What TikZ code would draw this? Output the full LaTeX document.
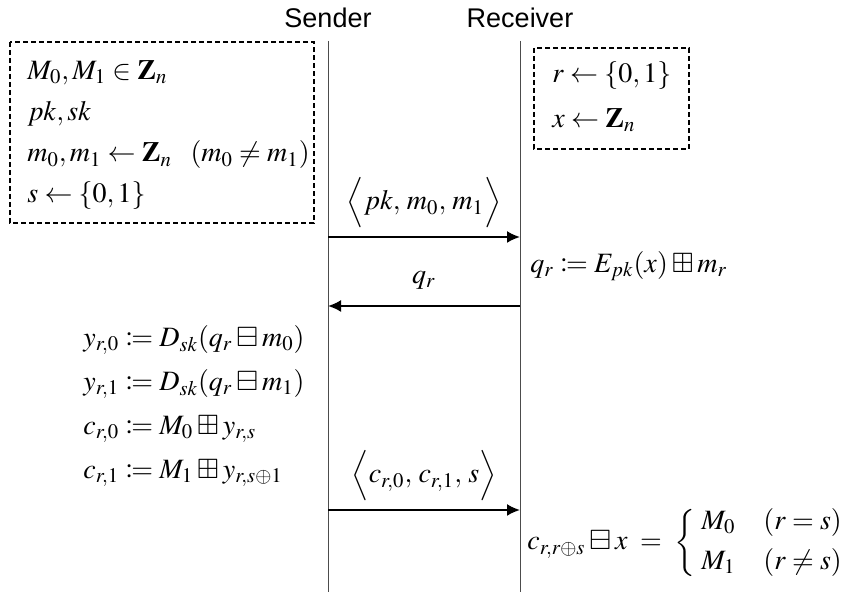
\documentclass[tikz,border=0pt]{standalone}
\usepackage{amssymb}
\usepackage{mathtools}
\usepackage{mathptmx}
\usepackage[no-math]{fontspec}
\newfontfamily\titlefont{Liberation Sans}
\usetikzlibrary{arrows.meta}
\tikzset{
  party/.style={font=\titlefont\fontsize{13.5}{15}\selectfont},
  lifeline/.style={draw=black!70, line width=0.5pt},
  dbox/.style={draw, dashed, line width=0.9pt, dash pattern=on 2.5pt off 1.5pt},
  msg/.style={line width=1pt, -{Latex[length=6.5pt,width=6pt]}},
  eq/.style={font=\fontsize{14}{16}\selectfont, inner sep=0pt},
}
\begin{document}
\begin{tikzpicture}[x=0.5pt, y=-0.5pt]
    \useasboundingbox (0,0) rectangle (858,592);
    % the two parties and their lifelines
    \node[party] (snd) at (328,18) {Sender};
    \node[party] (rcv) at (520,18) {Receiver};
    \coordinate (sndtop) at (328,41);
    \coordinate (sndbot) at (328,592);
    \coordinate (rcvtop) at (520,41);
    \coordinate (rcvbot) at (520,592);
    \draw[lifeline] (sndtop) -- (sndbot);
    \draw[lifeline] (rcvtop) -- (rcvbot);
    % set-up on each side
    \draw[dbox] (10,42) rectangle (314,223);
    \node[eq, anchor=west] (sv1) at (27,73) {$M_0, M_1 \in \mathbf{Z}_n$};
    \node[eq, anchor=west] (sv2) at (27,114) {$pk, sk$};
    \node[eq, anchor=west] (sv3) at (27,155) {$m_0, m_1 \leftarrow \mathbf{Z}_n \;\;\; (m_0 \neq m_1)$};
    \node[eq, anchor=west] (sv4) at (27,196) {$s \leftarrow \{0,1\}$};
    \draw[dbox] (534,48) rectangle (689,149);
    \node[eq, anchor=west] (rv1) at (552,76) {$r \leftarrow \{0,1\}$};
    \node[eq, anchor=west] (rv2) at (552,120) {$x \leftarrow \mathbf{Z}_n$};
    % messages
    \coordinate (s1) at (328,237);
    \coordinate (r1) at (520,237);
    \coordinate (s2) at (328,306);
    \coordinate (r2) at (520,306);
    \coordinate (s3) at (328,510);
    \coordinate (r3) at (520,510);
    \draw[msg] (s1) -- node[eq, above=4pt] (m1) {$\Big\langle pk,\, m_0,\, m_1 \Big\rangle$} (r1);
    \draw[msg] (r2) -- node[eq, above=8pt] (m2) {$q_r$} (s2);
    \draw[msg] (s3) -- node[eq, above=4pt] (m3) {$\Big\langle c_{r,0},\, c_{r,1},\, s \Big\rangle$} (r3);
    % computations
    \node[eq, anchor=west] (enc) at (530,266) {$q_r \coloneqq E_{pk}(x) \boxplus m_r$};
    \node[eq, anchor=west] (dec0) at (83,340) {$y_{r,0} \coloneqq D_{sk}(q_r \boxminus m_0)$};
    \node[eq, anchor=west] (dec1) at (83,384) {$y_{r,1} \coloneqq D_{sk}(q_r \boxminus m_1)$};
    \node[eq, anchor=west] (ct0) at (83,429) {$c_{r,0} \coloneqq M_0 \boxplus y_{r,s}$};
    \node[eq, anchor=west] (ct1) at (83,473) {$c_{r,1} \coloneqq M_1 \boxplus y_{r,s\oplus 1}$};
    \node[eq, anchor=west] (res) at (527,543)
        {$c_{r,r\oplus s} \boxminus x \;=\; \left\{\;\begin{array}{@{}l@{\quad}l} M_0 & (r = s)\\[4pt] M_1 & (r \neq s)\end{array}\right.$};
\end{tikzpicture}
\end{document}
